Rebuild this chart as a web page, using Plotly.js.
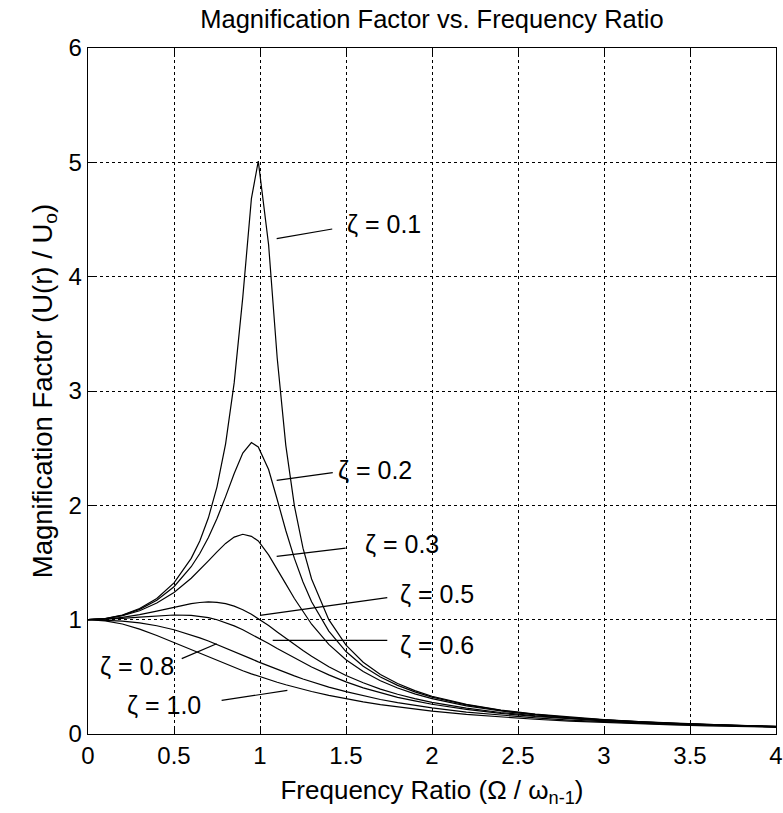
<!DOCTYPE html>
<html>
<head>
<meta charset="utf-8">
<script src="https://cdn.plot.ly/plotly-3.0.1.min.js"></script>
<style>html,body{margin:0;padding:0;background:#fff;}#chart{width:783px;height:813px;}</style>
</head>
<body>
<div id="chart"></div>
<script>
// Frequency ratio samples (r = Omega / omega)
const freqRatio = [0, 0.1, 0.2, 0.3, 0.4, 0.5, 0.6, 0.65, 0.7, 0.75, 0.8, 0.85, 0.9, 0.95, 0.99,
  1.05, 1.1, 1.15, 1.2, 1.25, 1.3, 1.4, 1.5, 1.6, 1.7, 1.8, 1.9, 2.0,
  2.2, 2.4, 2.6, 2.8, 3.0, 3.2, 3.4, 3.6, 3.8, 4.0];

// Magnification factor read for each damping ratio
const mag_z01 = [1, 1.010, 1.041, 1.097, 1.185, 1.322, 1.536, 1.689, 1.891, 2.162, 2.538, 3.073, 3.821, 4.683, 5.010,
  4.279, 3.288, 2.525, 1.995, 1.625, 1.356, 1.000, 0.778, 0.628, 0.521, 0.441, 0.379, 0.330,
  0.259, 0.209, 0.173, 0.146, 0.125, 0.108, 0.0945, 0.0835, 0.0743, 0.0666];
const mag_z02 = [1, 1.009, 1.038, 1.090, 1.170, 1.288, 1.463, 1.579, 1.719, 1.885, 2.076, 2.279, 2.457, 2.549, 2.510,
  2.313, 2.051, 1.780, 1.536, 1.329, 1.157, 0.900, 0.721, 0.593, 0.498, 0.425, 0.368, 0.322,
  0.254, 0.206, 0.171, 0.144, 0.124, 0.107, 0.0939, 0.0830, 0.0739, 0.0663];
const mag_z03 = [1, 1.008, 1.034, 1.078, 1.145, 1.238, 1.362, 1.435, 1.514, 1.593, 1.667, 1.722, 1.747, 1.729, 1.688,
  1.567, 1.444, 1.313, 1.185, 1.067, 0.960, 0.784, 0.649, 0.546, 0.466, 0.402, 0.351, 0.310,
  0.246, 0.201, 0.168, 0.142, 0.122, 0.106, 0.0930, 0.0823, 0.0734, 0.0658];
const mag_z05 = [1, 1.005, 1.020, 1.044, 1.075, 1.109, 1.140, 1.150, 1.155, 1.152, 1.140, 1.118, 1.087, 1.047, 1.010,
  0.948, 0.893, 0.837, 0.782, 0.730, 0.680, 0.589, 0.512, 0.448, 0.393, 0.348, 0.310, 0.277,
  0.226, 0.188, 0.158, 0.135, 0.117, 0.102, 0.0901, 0.0801, 0.0716, 0.0644];
const mag_z06 = [1, 1.003, 1.011, 1.022, 1.034, 1.041, 1.038, 1.030, 1.018, 0.999, 0.975, 0.946, 0.912, 0.874, 0.841,
  0.791, 0.748, 0.706, 0.664, 0.624, 0.586, 0.517, 0.456, 0.404, 0.360, 0.321, 0.289, 0.260,
  0.215, 0.180, 0.153, 0.131, 0.114, 0.0999, 0.0883, 0.0786, 0.0705, 0.0635];
const mag_z08 = [1, 0.997, 0.988, 0.972, 0.947, 0.912, 0.867, 0.841, 0.813, 0.783, 0.752, 0.721, 0.689, 0.657, 0.631,
  0.594, 0.564, 0.535, 0.508, 0.481, 0.456, 0.410, 0.370, 0.334, 0.302, 0.274, 0.250, 0.228,
  0.192, 0.164, 0.141, 0.122, 0.107, 0.0947, 0.0842, 0.0753, 0.0678, 0.0613];
const mag_z10 = [1, 0.990, 0.962, 0.917, 0.862, 0.800, 0.735, 0.703, 0.671, 0.640, 0.610, 0.581, 0.553, 0.526, 0.505,
  0.476, 0.453, 0.431, 0.410, 0.390, 0.372, 0.338, 0.308, 0.281, 0.257, 0.236, 0.217, 0.200,
  0.171, 0.148, 0.129, 0.113, 0.100, 0.0890, 0.0796, 0.0716, 0.0648, 0.0588];

const seriesValues = [mag_z01, mag_z02, mag_z03, mag_z05, mag_z06, mag_z08, mag_z10];

// Curve labels
const labelText = ["ζ = 0.1", "ζ = 0.2", "ζ = 0.3", "ζ = 0.5", "ζ = 0.6", "ζ = 0.8", "ζ = 1.0"];

// Tick labels
const xTickVals = [0, 0.5, 1, 1.5, 2, 2.5, 3, 3.5, 4];
const xTickText = ["0", "0.5", "1", "1.5", "2", "2.5", "3", "3.5", "4"];
const yTickVals = [0, 1, 2, 3, 4, 5, 6];
const yTickText = ["0", "1", "2", "3", "4", "5", "6"];

// Label placement (layout only): text anchor and pointer line endpoints
const labelPos = [
  {tx: 1.494, ty: 4.46, x0: 1.097, y0: 4.333, x1: 1.420, y1: 4.417},
  {tx: 1.442, ty: 2.31, x0: 1.097, y0: 2.219, x1: 1.423, y1: 2.286},
  {tx: 1.599, ty: 1.665, x0: 1.097, y0: 1.554, x1: 1.498, y1: 1.626},
  {tx: 1.802, ty: 1.227, x0: 1.000, y0: 1.038, x1: 1.740, y1: 1.192},
  {tx: 1.802, ty: 0.779, x0: 1.074, y0: 0.819, x1: 1.740, y1: 0.819},
  {tx: 0.058, ty: 0.595, x0: 0.545, y0: 0.659, x1: 0.748, y1: 0.790},
  {tx: 0.215, ty: 0.254, x0: 0.777, y0: 0.294, x1: 1.159, y1: 0.381}
];

const FONT = "Arial, 'Liberation Sans', Helvetica, sans-serif";

const traces = seriesValues.map((vals, i) => ({
  type: "scatter",
  mode: "lines",
  x: freqRatio,
  y: vals,
  name: labelText[i],
  line: {color: "#000000", width: 1.2},
  hoverinfo: "skip",
  showlegend: false
}));

const shapes = labelPos.map(p => ({
  type: "line", xref: "x", yref: "y",
  x0: p.x0, y0: p.y0, x1: p.x1, y1: p.y1,
  line: {color: "#000000", width: 1.2}
}));

const annotations = labelPos.map((p, i) => ({
  xref: "x", yref: "y", x: p.tx, y: p.ty,
  xanchor: "left", yanchor: "middle",
  text: labelText[i], showarrow: false,
  font: {family: FONT, size: 25, color: "#000000"}
}));

const axisCommon = {
  showline: true, linecolor: "#000000", linewidth: 1.3,
  mirror: "ticks", ticks: "inside", ticklen: 7, tickwidth: 1, tickcolor: "#000000",
  showgrid: true, gridcolor: "#000000", gridwidth: 1, griddash: "3px,3px",
  zeroline: false, tickmode: "array",
  tickfont: {family: FONT, size: 24, color: "#000000"}
};

const layout = {
  width: 783, height: 813,
  margin: {l: 88, r: 7, t: 48, b: 79, pad: 0},
  paper_bgcolor: "#ffffff", plot_bgcolor: "#ffffff",
  title: {
    text: "Magnification Factor vs. Frequency Ratio",
    font: {family: FONT, size: 25.5, color: "#000000"},
    xref: "paper", x: 0.5, xanchor: "center",
    yref: "container", y: 1 - 19/813, yanchor: "middle"
  },
  xaxis: Object.assign({}, axisCommon, {
    range: [0, 4], tickvals: xTickVals, ticktext: xTickText,
    title: {text: "Frequency Ratio (Ω / ω<sub>n-1</sub>)", font: {family: FONT, size: 26, color: "#000000"}, standoff: 12}
  }),
  yaxis: Object.assign({}, axisCommon, {
    range: [0, 6], tickvals: yTickVals, ticktext: yTickText,
    title: {text: "Magnification Factor (U(r) / U<sub>o</sub>)", font: {family: FONT, size: 27.5, color: "#000000"}, standoff: 8}
  }),
  shapes: shapes,
  annotations: annotations,
  showlegend: false
};

Plotly.newPlot("chart", traces, layout, {displayModeBar: false, staticPlot: true});
</script>
</body>
</html>
